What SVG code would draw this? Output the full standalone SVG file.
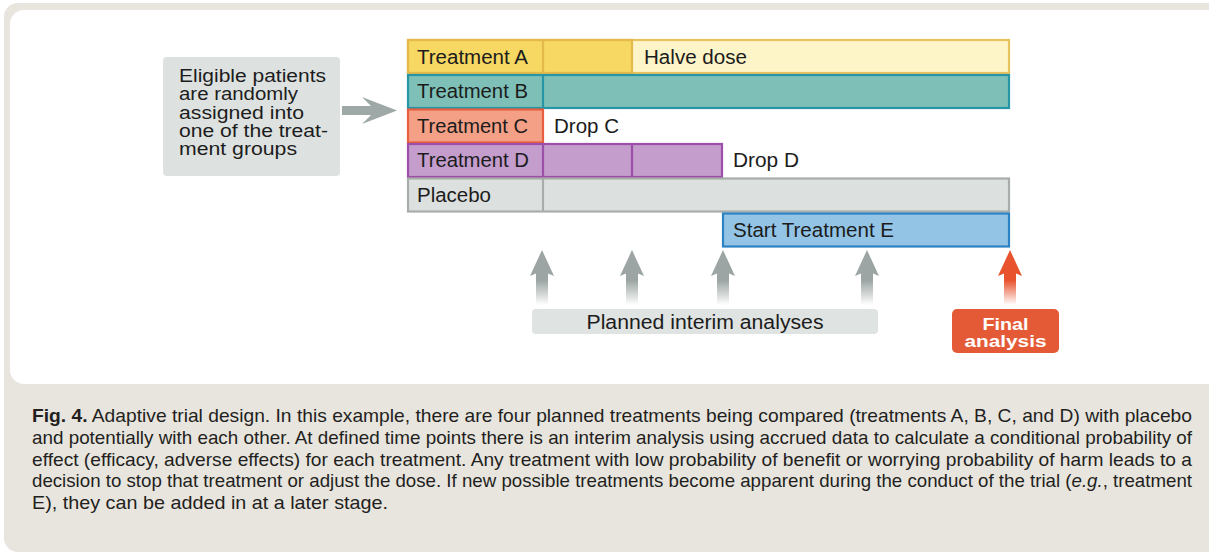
<svg xmlns="http://www.w3.org/2000/svg" xmlns:xlink="http://www.w3.org/1999/xlink" width="1209" height="554" viewBox="0 0 1209 554">
<style>
.t{font-family:"Liberation Sans",Arial,Helvetica,sans-serif;font-size:19.5px;fill:#1c1c1c}
.e{font-family:"Liberation Sans",Arial,Helvetica,sans-serif;font-size:17.5px;fill:#1c1c1c}
.cap{font-family:"Liberation Sans",Arial,Helvetica,sans-serif;font-size:19px;fill:#231f20}
.fig{font-weight:bold}
.fin{font-family:"Liberation Sans",Arial,Helvetica,sans-serif;font-size:17px;font-weight:bold;fill:#ffffff}
.b{stroke-width:2.2}
</style>
<defs>
<linearGradient id="gGray" x1="0" y1="0" x2="0" y2="1">
<stop offset="0" stop-color="#9ca5a3"/>
<stop offset="0.55" stop-color="#9ca5a3"/>
<stop offset="1" stop-color="#9ca5a3" stop-opacity="0"/>
</linearGradient>
<linearGradient id="gRed" x1="0" y1="0" x2="0" y2="1">
<stop offset="0" stop-color="#e8532e"/>
<stop offset="0.55" stop-color="#e8532e"/>
<stop offset="1" stop-color="#e8532e" stop-opacity="0"/>
</linearGradient>
<path id="up" d="M0,250 L12,276 L6,273.5 L6,305 L-6,305 L-6,273.5 L-12,276 Z"/>
</defs>

<g id="background">
<rect x="4" y="3" width="1240" height="549" rx="14" fill="#e8e5df"/>
<rect x="10" y="10" width="1230" height="374" rx="14" fill="#ffffff"/>
</g>

<g id="eligible">
<rect x="163" y="57" width="177" height="119" rx="4" fill="#dde2e0"/>
<text class="e" x="179" y="82" textLength="147" lengthAdjust="spacingAndGlyphs">Eligible patients</text>
<text class="e" x="179" y="100" textLength="119" lengthAdjust="spacingAndGlyphs">are randomly</text>
<text class="e" x="179" y="118.5" textLength="125" lengthAdjust="spacingAndGlyphs">assigned into</text>
<text class="e" x="179" y="137" textLength="149" lengthAdjust="spacingAndGlyphs">one of the treat-</text>
<text class="e" x="179" y="155" textLength="118" lengthAdjust="spacingAndGlyphs">ment groups</text>
</g>

<g id="treatmentA">
<rect class="b" x="408" y="40" width="601" height="33" fill="#fdf4c8" stroke="#e8c25f"/>
<rect class="b" x="408" y="40" width="224" height="33" fill="#f6d862" stroke="#e4b94c"/>
<line class="b" x1="543" y1="40" x2="543" y2="73" stroke="#e4b94c"/>
<text class="t" x="417" y="63.5" textLength="111" lengthAdjust="spacingAndGlyphs">Treatment A</text>
<text class="t" x="644" y="63.5" textLength="103" lengthAdjust="spacingAndGlyphs">Halve dose</text>
</g>

<g id="treatmentB">
<rect class="b" x="408" y="75" width="601" height="33" fill="#7ec0b7" stroke="#2696a6"/>
<line class="b" x1="543" y1="75" x2="543" y2="108" stroke="#2696a6"/>
<text class="t" x="417" y="98" textLength="111" lengthAdjust="spacingAndGlyphs">Treatment B</text>
</g>

<g id="treatmentC">
<rect class="b" x="408" y="109.5" width="135" height="33" fill="#f4a086" stroke="#e85e3e"/>
<text class="t" x="417" y="132.5" textLength="111" lengthAdjust="spacingAndGlyphs">Treatment C</text>
<text class="t" x="554" y="132.5" textLength="65" lengthAdjust="spacingAndGlyphs">Drop C</text>
</g>

<g id="treatmentD">
<rect class="b" x="408" y="144" width="314" height="33" fill="#c49dcc" stroke="#9c4fa8"/>
<line class="b" x1="543" y1="144" x2="543" y2="177" stroke="#9c4fa8"/>
<line class="b" x1="632" y1="144" x2="632" y2="177" stroke="#9c4fa8"/>
<text class="t" x="417" y="167" textLength="112" lengthAdjust="spacingAndGlyphs">Treatment D</text>
<text class="t" x="733" y="167" textLength="66" lengthAdjust="spacingAndGlyphs">Drop D</text>
</g>

<g id="placebo">
<rect class="b" x="408" y="178.5" width="601" height="33" fill="#dce1df" stroke="#a8adab"/>
<line class="b" x1="543" y1="178.5" x2="543" y2="211.5" stroke="#a8adab"/>
<text class="t" x="417" y="201.5" textLength="74" lengthAdjust="spacingAndGlyphs">Placebo</text>
</g>

<g id="treatmentE">
<rect class="b" x="723" y="213.5" width="286" height="33" fill="#93c4e6" stroke="#2d82c4"/>
<text class="t" x="733" y="236.5" textLength="161" lengthAdjust="spacingAndGlyphs">Start Treatment E</text>
</g>

<g id="interim">
<rect x="532" y="309" width="346" height="25" rx="4" fill="#dfe3e1"/>
<text class="t" x="705" y="328.5" text-anchor="middle" textLength="237" lengthAdjust="spacingAndGlyphs">Planned interim analyses</text>
</g>

<g id="final">
<rect x="952" y="309" width="107" height="44" rx="5" fill="#e55a36"/>
<text class="fin" x="1005.5" y="330" text-anchor="middle" textLength="46" lengthAdjust="spacingAndGlyphs">Final</text>
<text class="fin" x="1005.5" y="347" text-anchor="middle" textLength="82" lengthAdjust="spacingAndGlyphs">analysis</text>
</g>

<g id="connectors">
<polygon points="342,106 371,106 362,97 397,110.5 362,124 371,115 342,115" fill="#9ea8a6"/>
<use xlink:href="#up" href="#up" x="542" fill="url(#gGray)"/>
<use xlink:href="#up" href="#up" x="632" fill="url(#gGray)"/>
<use xlink:href="#up" href="#up" x="723" fill="url(#gGray)"/>
<use xlink:href="#up" href="#up" x="867" fill="url(#gGray)"/>
<use xlink:href="#up" href="#up" x="1010" fill="url(#gRed)"/>
</g>

<g id="caption">
<text class="cap" x="32" y="422" textLength="1160" lengthAdjust="spacingAndGlyphs"><tspan class="fig">Fig. 4.</tspan>  Adaptive trial design. In this example, there are four planned treatments being compared (treatments A, B, C, and D) with placebo</text>
<text class="cap" x="32" y="444" textLength="1160" lengthAdjust="spacingAndGlyphs">and potentially with each other. At defined time points there is an interim analysis using accrued data to calculate a conditional probability of</text>
<text class="cap" x="32" y="465.5" textLength="1160" lengthAdjust="spacingAndGlyphs">effect (efficacy, adverse effects) for each treatment. Any treatment with low probability of benefit or worrying probability of harm leads to a</text>
<text class="cap" x="32" y="487" textLength="1160" lengthAdjust="spacingAndGlyphs">decision to stop that treatment or adjust the dose. If new possible treatments become apparent during the conduct of the trial (<tspan font-style="italic">e.g.</tspan>, treatment</text>
<text class="cap" x="32" y="508.5" textLength="356" lengthAdjust="spacingAndGlyphs">E), they can be added in at a later stage.</text>
</g>
</svg>
